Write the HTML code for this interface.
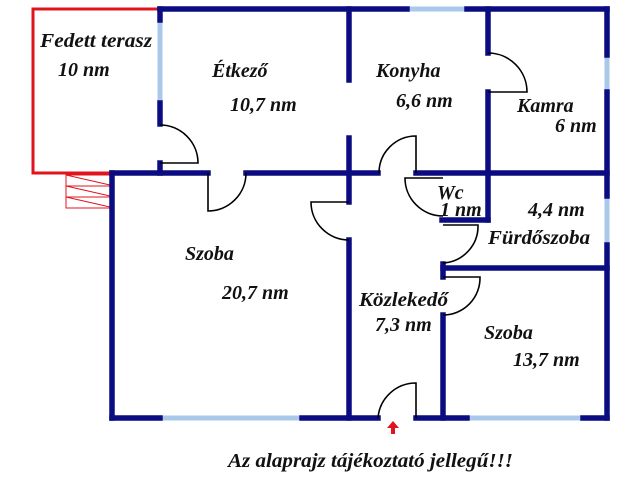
<!DOCTYPE html>
<html><head><meta charset="utf-8"><style>
html,body{margin:0;padding:0;background:#fff;}
svg{display:block}
text{font-family:"Liberation Serif",serif;font-weight:bold;font-style:italic;font-size:20px;fill:#111;}
</style></head><body>
<svg width="640" height="480" viewBox="0 0 640 480" xmlns="http://www.w3.org/2000/svg">
<g stroke="#e0141c" stroke-width="3" fill="none">
<polyline points="160,9 33,9 33,173 112,173"/>
</g>
<g stroke="#e0141c" stroke-width="1" fill="none">
<rect x="66" y="175" width="44" height="33"/>
<line x1="66" y1="186" x2="110" y2="186"/>
<line x1="66" y1="197" x2="110" y2="197"/>
<line x1="66" y1="175" x2="110" y2="185"/>
<line x1="66" y1="186" x2="110" y2="196"/>
<line x1="66" y1="197" x2="110" y2="207"/>
</g>
<g stroke="#a9c8ea" stroke-width="5" fill="none">
<line x1="160" y1="20" x2="160" y2="103"/>
<line x1="407" y1="9" x2="467" y2="9"/>
<line x1="607" y1="55" x2="607" y2="92"/>
<line x1="607" y1="196" x2="607" y2="245"/>
<line x1="160" y1="418" x2="302" y2="418"/>
<line x1="467" y1="418" x2="583" y2="418"/>
</g>
<g stroke="#0c0c82" stroke-width="5.5" fill="none" stroke-linecap="square">
<line x1="160" y1="9" x2="407" y2="9"/>
<line x1="467" y1="9" x2="607" y2="9"/>
<line x1="607" y1="9" x2="607" y2="55"/>
<line x1="607" y1="92" x2="607" y2="196"/>
<line x1="607" y1="245" x2="607" y2="418"/>
<line x1="160" y1="9" x2="160" y2="20"/>
<line x1="160" y1="103" x2="160" y2="124"/>
<line x1="160" y1="163" x2="160" y2="173"/>
<line x1="112" y1="173" x2="208" y2="173"/>
<line x1="246" y1="173" x2="378" y2="173"/>
<line x1="416" y1="173" x2="607" y2="173"/>
<line x1="112" y1="173" x2="112" y2="418"/>
<line x1="112" y1="418" x2="160" y2="418"/>
<line x1="302" y1="418" x2="378" y2="418"/>
<line x1="416" y1="418" x2="467" y2="418"/>
<line x1="583" y1="418" x2="607" y2="418"/>
<line x1="349" y1="9" x2="349" y2="80"/>
<line x1="349" y1="138" x2="349" y2="202"/>
<line x1="349" y1="240" x2="349" y2="418"/>
<line x1="488" y1="9" x2="488" y2="53"/>
<line x1="488" y1="92" x2="488" y2="220"/>
<line x1="442" y1="220" x2="488" y2="220"/>
<line x1="443" y1="264" x2="443" y2="277"/>
<line x1="443" y1="268" x2="607" y2="268"/>
<line x1="443" y1="315" x2="443" y2="418"/>
</g>
<g stroke="#000" stroke-width="1.6" fill="none">
<path d="M160,125 A38,38 0 0 1 198,163 L160,163"/>
<path d="M208,173 L208,211 A38,38 0 0 0 246,173"/>
<path d="M416,173 L416,136 A37,37 0 0 0 379,173"/>
<path d="M349,202 L311,202 A38,38 0 0 0 349,240"/>
<path d="M488,92 L527,92 A39,39 0 0 0 488,53"/>
<path d="M443,178 L405,178 A38,38 0 0 0 443,216"/>
<path d="M443,225 L478,225 A37,37 0 0 1 443,263"/>
<path d="M443,277 L480,277 A37,37 0 0 1 443,315"/>
<path d="M416,418 L416,383 A38,38 0 0 0 378,418"/>
</g>
<path d="M393,421 L387,428 L391,428 L391,434 L395,434 L395,428 L399,428 Z" fill="#e0141c"/>
<text x="40" y="47" textLength="112" lengthAdjust="spacingAndGlyphs">Fedett terasz</text>
<text x="58" y="76">10 nm</text>
<text x="212" y="77">Étkező</text>
<text x="230" y="111">10,7 nm</text>
<text x="376" y="77">Konyha</text>
<text x="396" y="107">6,6 nm</text>
<text x="517" y="112">Kamra</text>
<text x="555" y="132">6 nm</text>
<text x="437" y="199">Wc</text>
<text x="440" y="216">1 nm</text>
<text x="528" y="216">4,4 nm</text>
<text x="488" y="244" textLength="102" lengthAdjust="spacingAndGlyphs">Fürdőszoba</text>
<text x="185" y="260">Szoba</text>
<text x="222" y="299">20,7 nm</text>
<text x="359" y="306" textLength="89" lengthAdjust="spacingAndGlyphs">Közlekedő</text>
<text x="375" y="331">7,3 nm</text>
<text x="484" y="339">Szoba</text>
<text x="513" y="366">13,7 nm</text>
<text x="228" y="467" textLength="285" lengthAdjust="spacingAndGlyphs">Az alaprajz tájékoztató jellegű!!!</text>
</svg>
</body></html>
